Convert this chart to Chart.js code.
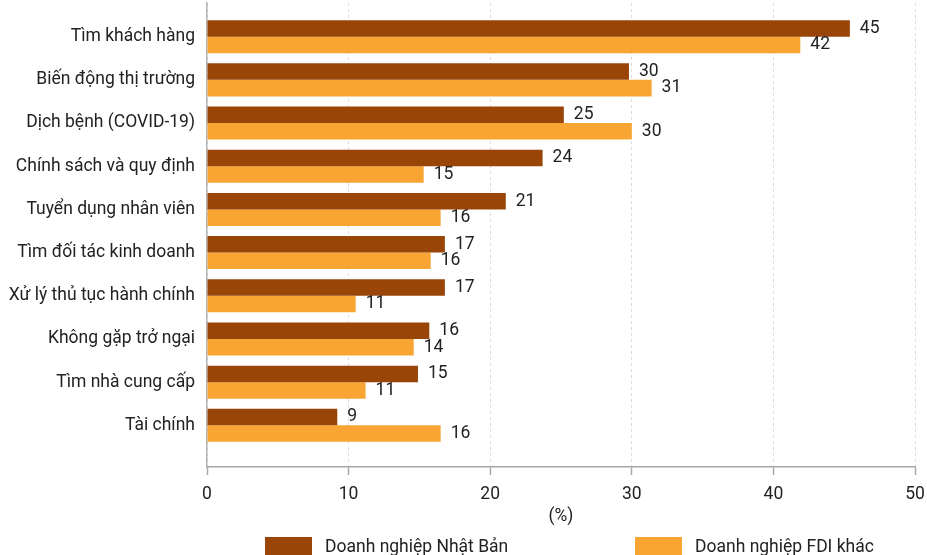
<!DOCTYPE html>
<html>
<head>
<meta charset="utf-8">
<script src="https://cdn.jsdelivr.net/npm/chart.js@4/dist/chart.umd.min.js"></script>
<style>
  body { margin: 0; background: #fff; font-family: Roboto, sans-serif; }
  .wrap { position: relative; width: 927px; height: 555px; overflow: hidden; }
  .legend { position: absolute; top: 536px; left: 0; width: 927px; height: 20px; }
  .legend .item { position: absolute; display: flex; align-items: center; font-size: 17.5px; color: #222; }
  .legend .box { width: 47px; height: 19px; margin-right: 13px; }
</style>
</head>
<body>
<div class="wrap">
  <canvas id="chart" width="927" height="555"></canvas>
  <div class="legend" id="legend"></div>
</div>
<script>
const categories = [
  'Tìm khách hàng',
  'Biến động thị trường',
  'Dịch bệnh (COVID-19)',
  'Chính sách và quy định',
  'Tuyển dụng nhân viên',
  'Tìm đối tác kinh doanh',
  'Xử lý thủ tục hành chính',
  'Không gặp trở ngại',
  'Tìm nhà cung cấp',
  'Tài chính'
];
const seriesNames = ['Doanh nghiệp Nhật Bản', 'Doanh nghiệp FDI khác'];
// bar lengths, labels as printed
const japanValues = [45.4, 29.8, 25.2, 23.7, 21.1, 16.8, 16.8, 15.7, 14.9, 9.2];
const fdiValues   = [41.9, 31.4, 30.0, 15.3, 16.5, 15.8, 10.5, 14.6, 11.2, 16.5];
const japanLabels = [45, 30, 25, 24, 21, 17, 17, 16, 15, 9];
const fdiLabels   = [42, 31, 30, 15, 16, 16, 11, 14, 11, 16];
const xTicks = [0, 10, 20, 30, 40, 50];

const colors = ['#994508', '#F8A533'];
const FONT = 17.5;

const toPoints = vals => vals.map((v, i) => ({ x: v, y: i }));

// draws the number next to the end of each bar
const barLabels = {
  id: 'barLabels',
  afterDatasetsDraw(chart) {
    const ctx = chart.ctx;
    const texts = [japanLabels, fdiLabels];
    ctx.save();
    ctx.font = FONT + 'px Roboto';
    ctx.fillStyle = '#222';
    ctx.textAlign = 'left';
    ctx.textBaseline = 'middle';
    chart.data.datasets.forEach((ds, di) => {
      chart.getDatasetMeta(di).data.forEach((bar, i) => {
        ctx.fillText(String(texts[di][i]), bar.x + 10, bar.y);
      });
    });
    ctx.restore();
  }
};

new Chart(document.getElementById('chart'), {
  type: 'bar',
  data: {
    datasets: [
      { label: seriesNames[0], data: toPoints(japanValues), backgroundColor: colors[0] },
      { label: seriesNames[1], data: toPoints(fdiValues), backgroundColor: colors[1] }
    ]
  },
  plugins: [barLabels],
  options: {
    indexAxis: 'y',
    responsive: false,
    animation: false,
    categoryPercentage: 0.765,
    barPercentage: 1,
    layout: { padding: { top: 3, right: 12, bottom: 26, left: 0 } },
    plugins: {
      legend: { display: false },
      tooltip: { enabled: false }
    },
    scales: {
      x: {
        type: 'linear',
        min: 0,
        max: 50,
        afterBuildTicks: s => { s.ticks = xTicks.map(v => ({ value: v })); },
        afterFit: s => { s.height = 62; s.paddingLeft = 0; s.paddingRight = 0; },
        grid: {
          color: '#dcdcdc',
          lineWidth: 1,
          drawTicks: true,
          tickLength: 8,
          tickColor: '#a8a8a8',
          tickWidth: 1.5,
          tickBorderDash: []
        },
        border: { display: true, color: '#a8a8a8', width: 1.5, dash: [3, 3] },
        ticks: { font: { family: 'Roboto', size: FONT }, color: '#222', padding: 9 },
        title: {
          display: true,
          text: '(%)',
          font: { family: 'Roboto', size: FONT },
          color: '#222',
          padding: { top: 0, bottom: 2 }
        }
      },
      y: {
        type: 'linear',
        reverse: true,
        offset: false,
        min: -0.78,
        max: 9.965,
        afterBuildTicks: s => { s.ticks = categories.map((c, i) => ({ value: i })); },
        afterFit: s => { s.width = 207; s.paddingTop = 0; s.paddingBottom = 0; },
        grid: { display: false, drawTicks: false },
        border: { display: true, color: '#b4b4b4', width: 1.5 },
        ticks: {
          autoSkip: false,
          callback: v => categories[v],
          font: { family: 'Roboto', size: FONT },
          color: '#222',
          padding: 12
        }
      }
    }
  }
});

// legend below the axis, spaced as in the source
const legend = document.getElementById('legend');
const legendX = [265, 635];
seriesNames.forEach((name, i) => {
  const item = document.createElement('div');
  item.className = 'item';
  item.style.left = legendX[i] + 'px';
  item.innerHTML = '<span class="box" style="background:' + colors[i] + '"></span><span>' + name + '</span>';
  legend.appendChild(item);
});
</script>
</body>
</html>
